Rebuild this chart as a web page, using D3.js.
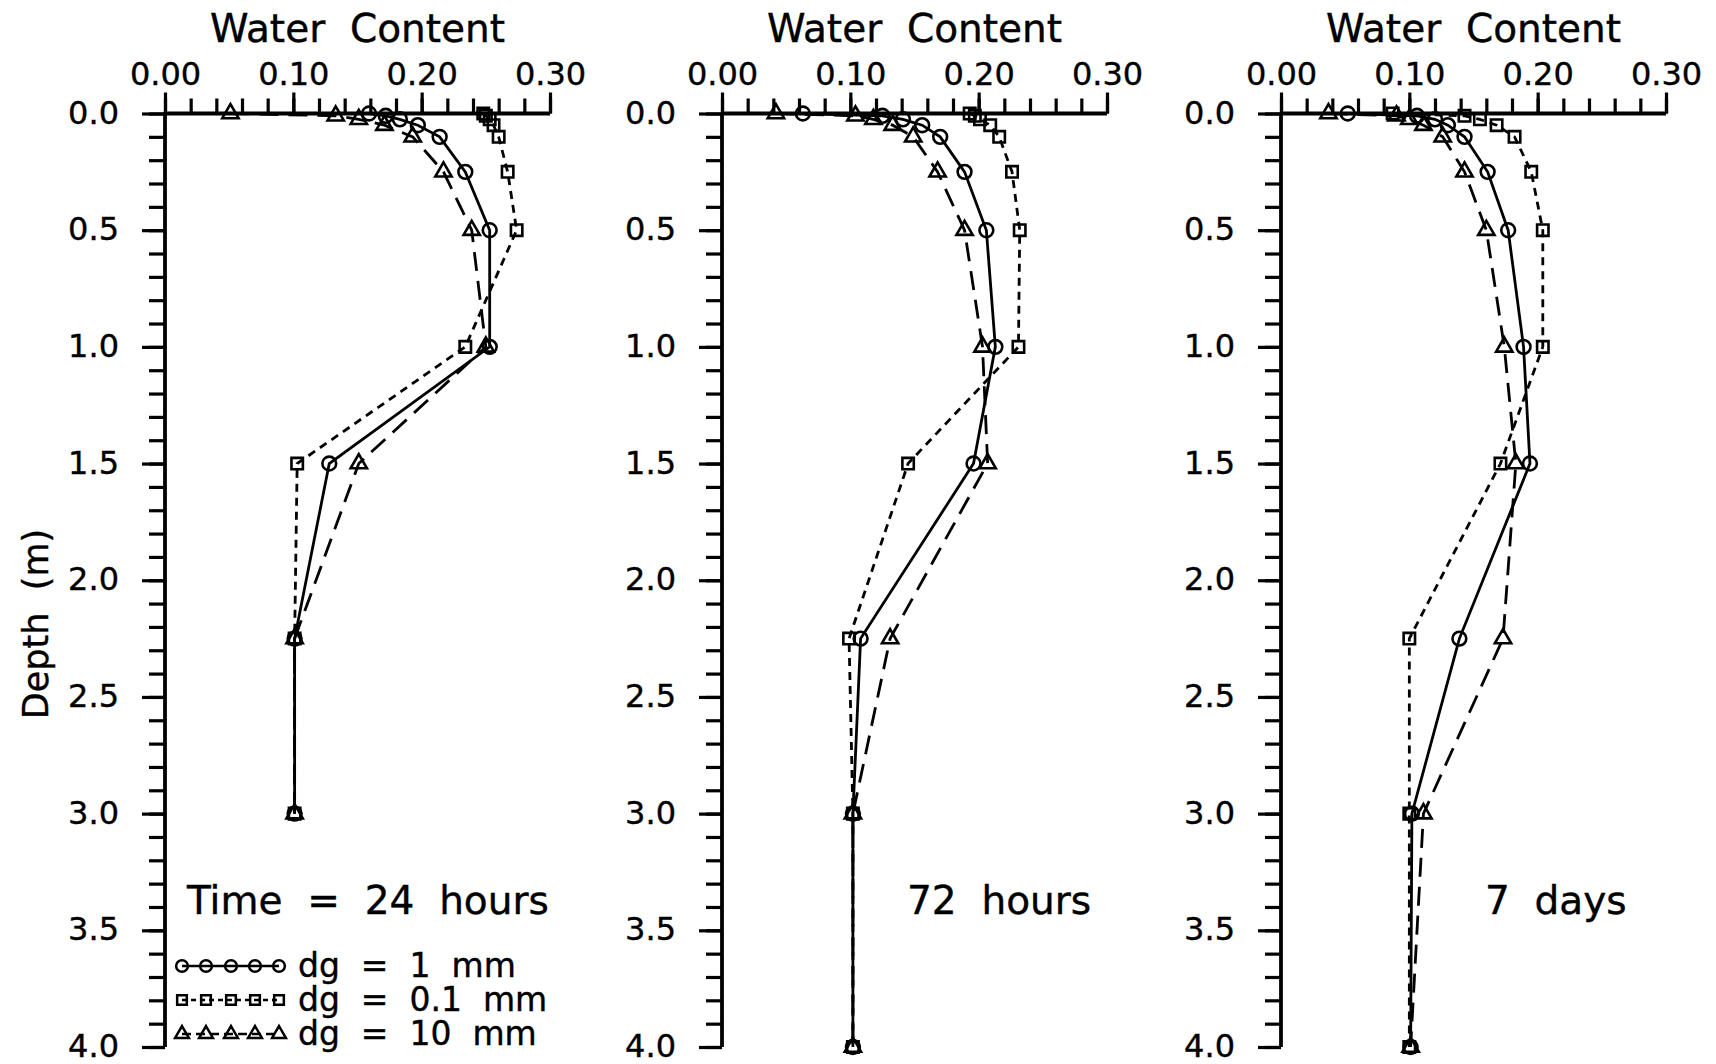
<!DOCTYPE html>
<html>
<head>
<meta charset="utf-8">
<script src="https://cdn.jsdelivr.net/npm/d3@7"></script>
<style>
  body { margin: 0; background: #fff; }
  text { font-family: "DejaVu Sans", sans-serif; fill: #000; white-space: pre; }
</style>
</head>
<body>
<script>
var width = 1716, height = 1064;

// depth nodes (m)
const depths = [0, 0.01, 0.025, 0.05, 0.1, 0.25, 0.5, 1.0, 1.5, 2.25, 3.0, 4.0];

// water content, 24 hours (profile stops at 3.0 m)
const wc24_1mm  = [0.159, 0.172, 0.183, 0.197, 0.214, 0.234, 0.253, 0.253, 0.128, 0.101, 0.101];
const wc24_01mm = [0.248, 0.250, 0.253, 0.256, 0.260, 0.267, 0.274, 0.234, 0.103, 0.101, 0.101];
const wc24_10mm = [0.051, 0.133, 0.151, 0.171, 0.193, 0.217, 0.239, 0.250, 0.151, 0.101, 0.101];
// 72 hours
const wc72_1mm  = [0.063, 0.125, 0.141, 0.156, 0.170, 0.189, 0.206, 0.213, 0.196, 0.108, 0.102, 0.102];
const wc72_01mm = [0.193, 0.197, 0.201, 0.209, 0.216, 0.226, 0.232, 0.231, 0.145, 0.099, 0.102, 0.102];
const wc72_10mm = [0.042, 0.104, 0.118, 0.133, 0.149, 0.168, 0.189, 0.203, 0.207, 0.131, 0.102, 0.102];
// 7 days
const wc7d_1mm  = [0.052, 0.106, 0.120, 0.130, 0.143, 0.161, 0.177, 0.189, 0.194, 0.139, 0.102, 0.101];
const wc7d_01mm = [0.087, 0.143, 0.155, 0.168, 0.182, 0.195, 0.204, 0.204, 0.171, 0.100, 0.100, 0.100];
const wc7d_10mm = [0.037, 0.090, 0.100, 0.111, 0.126, 0.143, 0.160, 0.174, 0.183, 0.173, 0.111, 0.101];

const panelLabels = ["Time  =  24  hours", "72  hours", "7  days"];
const seriesLabels = ["dg  =  1  mm", "dg  =  0.1  mm", "dg  =  10  mm"];
const xTicks = [0, 0.1, 0.2, 0.3];
const yTicks = [0, 0.5, 1.0, 1.5, 2.0, 2.5, 3.0, 3.5, 4.0];

const panelData = [
  [wc24_1mm, wc24_01mm, wc24_10mm],
  [wc72_1mm, wc72_01mm, wc72_10mm],
  [wc7d_1mm, wc7d_01mm, wc7d_10mm]
];

// layout
var panelLeft = [165, 722, 1281];
var panelW = 385;
var top0 = 113.5, bottom0 = 1047;
var labelX = [187, 907, 1485]; // where the time caption starts
var symbols = [d3.symbolCircle, d3.symbolSquare, d3.symbolTriangle];
var symSize = [150, 130, 115];
var dashes = [null, "8,6", "19,10"];

var svg = d3.select("body").append("svg")
  .attr("width", width)
  .attr("height", height);

svg.append("rect").attr("width", width).attr("height", height).attr("fill", "#fff");

var y = d3.scaleLinear().domain([0, 4]).range([top0, bottom0]);

var line = d3.line()
  .x(function(d) { return d.x; })
  .y(function(d) { return d.y; });

panelData.forEach(function(series, p) {
  var x = d3.scaleLinear().domain([0, 0.3]).range([panelLeft[p], panelLeft[p] + panelW]);
  var g = svg.append("g");

  // minor ticks
  g.append("g")
    .attr("transform", "translate(0," + top0 + ")")
    .call(d3.axisTop(x).tickValues(d3.range(0, 0.3001, 0.02)).tickSize(15).tickFormat(""))
    .call(function(a) { a.select(".domain").remove(); });
  g.append("g")
    .attr("transform", "translate(" + panelLeft[p] + ",0)")
    .call(d3.axisLeft(y).tickValues(d3.range(0, 4.001, 0.1)).tickSize(16).tickFormat(""))
    .call(function(a) { a.select(".domain").remove(); });

  // major ticks + labels
  var xa = g.append("g")
    .attr("transform", "translate(0," + top0 + ")")
    .call(d3.axisTop(x).tickValues(xTicks).tickSize(21).tickPadding(8).tickFormat(d3.format(".2f")));
  xa.select(".domain").remove();
  xa.selectAll("text").style("font-size", "32px").style("font-family", "DejaVu Sans")
    .attr("stroke", "#000").attr("stroke-width", 0.4);

  var ya = g.append("g")
    .attr("transform", "translate(" + panelLeft[p] + ",0)")
    .call(d3.axisLeft(y).tickValues(yTicks).tickSize(23).tickPadding(23).tickFormat(d3.format(".1f")));
  ya.select(".domain").remove();
  ya.selectAll("text").style("font-size", "32px").style("font-family", "DejaVu Sans")
    .attr("dy", "0.3em")
    .attr("stroke", "#000").attr("stroke-width", 0.4);

  g.selectAll(".tick line").attr("stroke", "#000").attr("stroke-width", 3.2);

  // axis lines
  g.append("line")
    .attr("x1", panelLeft[p]).attr("x2", x(0.3))
    .attr("y1", top0).attr("y2", top0)
    .attr("stroke", "#000").attr("stroke-width", 3.8);
  g.append("line")
    .attr("x1", panelLeft[p]).attr("x2", panelLeft[p])
    .attr("y1", top0).attr("y2", y(4))
    .attr("stroke", "#000").attr("stroke-width", 3.8);

  g.append("text")
    .attr("x", x(0.15)).attr("y", 42)
    .attr("text-anchor", "middle")
    .attr("stroke", "#000").attr("stroke-width", 0.4)
    .style("font-size", "39px")
    .text("Water  Content");

  // profiles
  series.forEach(function(vals, s) {
    var pts = vals.map(function(v, i) { return {x: x(v), y: y(depths[i])}; });
    g.append("path")
      .attr("d", line(pts))
      .attr("fill", "none")
      .attr("stroke", "#000")
      .attr("stroke-width", 2.8)
      .attr("stroke-dasharray", dashes[s]);
    g.selectAll(null).data(pts).enter().append("path")
      .attr("transform", function(d) { return "translate(" + d.x + "," + d.y + ")"; })
      .attr("d", d3.symbol().type(symbols[s]).size(symSize[s]))
      .attr("fill", "none")
      .attr("stroke", "#000")
      .attr("stroke-width", 2.6);
  });

  g.append("text")
    .attr("x", labelX[p]).attr("y", 914)
    .attr("stroke", "#000").attr("stroke-width", 0.4)
    .style("font-size", "39px")
    .text(panelLabels[p]);
});

// y title
svg.append("text")
  .attr("transform", "translate(48,624) rotate(-90)")
  .attr("text-anchor", "middle")
  .attr("stroke", "#000").attr("stroke-width", 0.4)
  .style("font-size", "35px")
  .text("Depth  (m)");

// legend in first panel
var legX = [182, 206, 231, 255, 279];
var legY = [966, 1000, 1034];
seriesLabels.forEach(function(lab, s) {
  var pts = legX.map(function(lx) { return {x: lx, y: legY[s]}; });
  svg.append("path")
    .attr("d", line(pts))
    .attr("fill", "none")
    .attr("stroke", "#000")
    .attr("stroke-width", 2.5)
    .attr("stroke-dasharray", s === 0 ? null : (s === 1 ? "5,4" : "9,5"));
  svg.selectAll(null).data(pts).enter().append("path")
    .attr("transform", function(d) { return "translate(" + d.x + "," + d.y + ")"; })
    .attr("d", d3.symbol().type(symbols[s]).size(symSize[s] * 0.72))
    .attr("fill", "none")
    .attr("stroke", "#000")
    .attr("stroke-width", 2.5);
  svg.append("text")
    .attr("x", 298).attr("y", legY[s] + 11)
    .attr("stroke", "#000").attr("stroke-width", 0.4)
    .style("font-size", "33px")
    .text(lab);
});
</script>
</body>
</html>
